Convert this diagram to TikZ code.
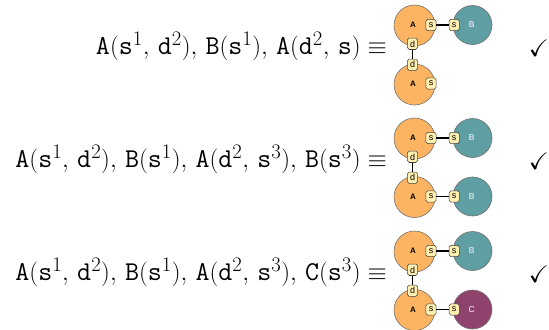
\documentclass[tikz,border=0pt]{standalone}
\usepackage{amssymb}
\usepackage{fontspec}
\newfontfamily\diagfont{Liberation Sans}
\definecolor{agent}{HTML}{FDB462}
\definecolor{bcol}{HTML}{5F9EA3}
\definecolor{ccol}{HTML}{8E426C}
\definecolor{portfill}{HTML}{FFF0B0}
\definecolor{rim}{HTML}{707070}
\newcommand{\cm}{,\,}
\begin{document}
\begin{tikzpicture}[x=1bp,y=-1bp,
  eq/.style={anchor=base east,inner sep=0pt,font=\fontsize{27.3}{32}\selectfont},
  tick/.style={anchor=base east,inner sep=0pt,font=\fontsize{24}{28}\selectfont},
  bigA/.style={circle,draw=rim,line width=0.6bp,fill=agent,minimum size=41bp,inner sep=0pt},
  bigB/.style={circle,draw=rim,line width=0.6bp,fill=bcol,minimum size=39bp,inner sep=0pt},
  bigC/.style={circle,draw=rim,line width=0.6bp,fill=ccol,minimum size=39bp,inner sep=0pt},
  lab/.style={inner sep=0pt,font=\diagfont\bfseries\fontsize{8}{9}\selectfont},
  wlab/.style={inner sep=0pt,text=white,font=\diagfont\fontsize{8.5}{9}\selectfont},
  port/.style={draw=black!75,fill=portfill,rounded corners=1.8bp,line width=0.6bp,
    minimum width=10.3bp,minimum height=11.3bp,inner sep=0pt,font=\diagfont\fontsize{9}{9}\selectfont},
  bond/.style={line width=1.4bp,black}]
\useasboundingbox (0,0) rectangle (549,329);
% ---------- row 1 ----------
\node[eq] (t1) at (387,54) {$\mathtt{A}(\mathtt{s}^1\cm\mathtt{d}^2)\cm\mathtt{B}(\mathtt{s}^1)\cm\mathtt{A}(\mathtt{d}^2\cm\mathtt{s})\equiv$};
\node[tick] (k1) at (549,56) {$\checkmark$};
\node[bigA] (a11) at (414.5,25.5) {};
\node[lab] at (413,25) {A};
\node[bigB] (b11) at (472.5,25) {};
\node[wlab] at (471.7,25) {B};
\node[port] (p11s) at (431,25) {s};
\node[port] (p12s) at (454.2,25) {s};
\node[port] (p11d) at (412.5,43.8) {d};
\node[bigA] (a12) at (414.5,84.5) {};
\node[lab] at (413,83.5) {A};
\node[port] (p13d) at (412.5,64.7) {d};
\node[port] (p13s) at (431,83.5) {s};
\draw[bond] (p11s) -- (p12s);
\draw[bond] (p11d) -- (p13d);
% ---------- row 2 ----------
\node[eq] (t2) at (387,167) {$\mathtt{A}(\mathtt{s}^1\cm\mathtt{d}^2)\cm\mathtt{B}(\mathtt{s}^1)\cm\mathtt{A}(\mathtt{d}^2\cm\mathtt{s}^3)\cm\mathtt{B}(\mathtt{s}^3)\equiv$};
\node[tick] (k2) at (549,169) {$\checkmark$};
\node[bigA] (a21) at (414.5,138.5) {};
\node[lab] at (413,138) {A};
\node[bigB] (b21) at (472.5,138) {};
\node[wlab] at (471.7,138) {B};
\node[port] (p21s) at (431,138) {s};
\node[port] (p22s) at (454.2,138) {s};
\node[port] (p21d) at (412.5,156.8) {d};
\node[bigA] (a22) at (414.5,197) {};
\node[lab] at (413,196.5) {A};
\node[bigB] (b22) at (472.5,196.5) {};
\node[wlab] at (471.7,196.5) {B};
\node[port] (p23d) at (412.5,177.7) {d};
\node[port] (p23s) at (431,196.5) {s};
\node[port] (p24s) at (454.2,196.5) {s};
\draw[bond] (p21s) -- (p22s);
\draw[bond] (p21d) -- (p23d);
\draw[bond] (p23s) -- (p24s);
% ---------- row 3 ----------
\node[eq] (t3) at (387,280) {$\mathtt{A}(\mathtt{s}^1\cm\mathtt{d}^2)\cm\mathtt{B}(\mathtt{s}^1)\cm\mathtt{A}(\mathtt{d}^2\cm\mathtt{s}^3)\cm\mathtt{C}(\mathtt{s}^3)\equiv$};
\node[tick] (k3) at (549,282) {$\checkmark$};
\node[bigA] (a31) at (414.5,251.5) {};
\node[lab] at (413,251) {A};
\node[bigB] (b31) at (472.5,251) {};
\node[wlab] at (471.7,251) {B};
\node[port] (p31s) at (431,251) {s};
\node[port] (p32s) at (454.2,251) {s};
\node[port] (p31d) at (412.5,269.8) {d};
\node[bigA] (a32) at (414.5,310) {};
\node[lab] at (413,309.5) {A};
\node[bigC] (c32) at (472.5,309.5) {};
\node[wlab] at (471.7,309.5) {C};
\node[port] (p33d) at (412.5,290.7) {d};
\node[port] (p33s) at (431,309.5) {s};
\node[port] (p34s) at (454.2,309.5) {s};
\draw[bond] (p31s) -- (p32s);
\draw[bond] (p31d) -- (p33d);
\draw[bond] (p33s) -- (p34s);
\end{tikzpicture}
\end{document}
